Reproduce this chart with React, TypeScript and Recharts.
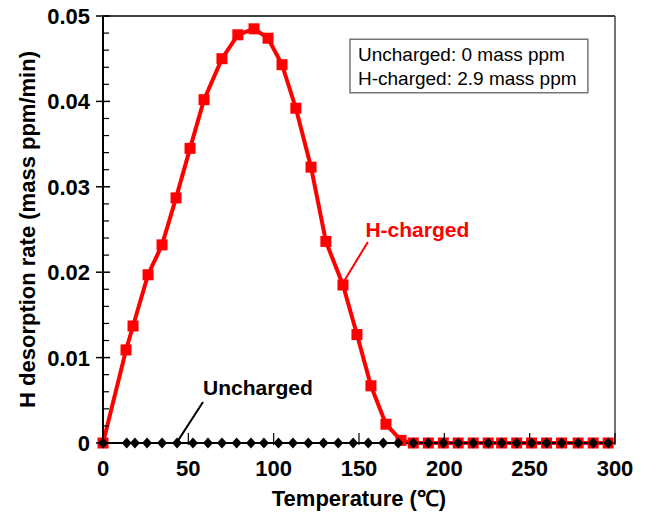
import React from 'react';
import { LineChart, Line, XAxis, YAxis, ReferenceLine, ReferenceDot, ReferenceArea, Label } from 'recharts';

const hTemps = [0, 13.5, 17.6, 26.4, 34.6, 42.8, 51, 59.2, 69.7, 79, 88.5, 96.7, 104.9, 113, 121.9, 130.6, 140.6, 148.8, 157, 165.8, 174.6, 181.8, 190.6, 199.4, 208.1, 216.9, 225.7, 233.6, 242.4, 251.1, 259.9, 268.7, 278.4, 287.2, 296];
const hRates = [0, 0.0109, 0.0137, 0.0197, 0.0232, 0.0287, 0.0345, 0.0402, 0.045, 0.0478, 0.0485, 0.0474, 0.0443, 0.0392, 0.0323, 0.0236, 0.0185, 0.0127, 0.0067, 0.0022, 0.0003, 0, 0, 0, 0, 0, 0, 0, 0, 0, 0, 0, 0, 0, 0];

const uTemps = [0, 13.9, 18.7, 25.8, 34.6, 43.4, 52.7, 61.5, 69.7, 78.3, 86.7, 94.3, 102.8, 111.3, 120.3, 129.2, 137.8, 146.6, 155.4, 164.2, 173, 181.8, 190.6, 199.4, 208.1, 216.9, 225.7, 233.6, 242.4, 251.1, 259.9, 268.7, 278.4, 287.2, 296];
const uRates = [0, 0, 0, 0, 0, 0, 0, 0, 0, 0, 0, 0, 0, 0, 0, 0, 0, 0, 0, 0, 0, 0, 0, 0, 0, 0, 0, 0, 0, 0, 0, 0, 0, 0, 0];

const xTicks = [0, 50, 100, 150, 200, 250, 300];
const yTicks = [0, 0.002, 0.004, 0.006, 0.008, 0.01, 0.012, 0.014, 0.016, 0.018, 0.02, 0.022, 0.024, 0.026, 0.028, 0.03, 0.032, 0.034, 0.036, 0.038, 0.04, 0.042, 0.044, 0.046, 0.048, 0.05];
const yLabels = ['0', '0.01', '0.02', '0.03', '0.04', '0.05'];

const legendLines = ['Uncharged: 0 mass ppm', 'H-charged: 2.9 mass ppm'];

const hData = hTemps.map((t, i) => ({ temp: t, rate: hRates[i] }));
const uData = uTemps.map((t, i) => ({ temp: t, rate: uRates[i] }));

const FONT = '"Liberation Sans", Arial, sans-serif';

const YTick = (props: any) => {
  const { x, y, payload } = props;
  const v = payload.value;
  const idx = Math.round(v * 500);
  const major = idx % 5 === 0;
  return (
    <g>
      {major ? (
        <line x1={x - 7} x2={x + 7} y1={y} y2={y} stroke="#000" strokeWidth={1.5} />
      ) : (
        <line x1={x} x2={x + 6} y1={y} y2={y} stroke="#000" strokeWidth={1.2} />
      )}
      {major && (
        <text x={x - 13} y={y} dy="0.36em" textAnchor="end" fontFamily={FONT} fontWeight="bold" fontSize={22} fill="#000">
          {yLabels[idx / 5]}
        </text>
      )}
    </g>
  );
};

const XTick = (props: any) => {
  const { x, y, payload } = props;
  return (
    <g>
      <line x1={x} x2={x} y1={y - 10} y2={y + 2} stroke="#000" strokeWidth={1.2} />
      <text x={x} y={y + 25} dy="0.36em" textAnchor="middle" fontFamily={FONT} fontWeight="bold" fontSize={22} fill="#000">
        {payload.value}
      </text>
    </g>
  );
};

const squareDot = (p: any) => (
  <rect key={`s${p.index}`} x={p.cx - 5.5} y={p.cy - 5.5} width={11} height={11} fill="#ff0000" />
);

const diamondDot = (p: any) => (
  <polygon
    key={`d${p.index}`}
    points={`${p.cx},${p.cy - 5.5} ${p.cx + 5},${p.cy} ${p.cx},${p.cy + 5.5} ${p.cx - 5},${p.cy}`}
    fill="#000"
  />
);

export default function App() {
  return (
    <div style={{ position: 'absolute', left: 0, top: 0, width: 650, height: 514, background: '#fff' }}>
      <LineChart width={650} height={514} margin={{ top: 16, right: 35, left: 0, bottom: 0 }}>
        <XAxis
          type="number"
          dataKey="temp"
          domain={[0, 300]}
          ticks={xTicks}
          interval={0}
          height={71}
          tickSize={0}
          tickMargin={0}
          tick={<XTick />}
          axisLine={{ stroke: '#000', strokeWidth: 2 }}
        >
          <Label
            content={(p: any) => {
              const vb = p.viewBox;
              return (
                <text x={vb.x + vb.width / 2} y={498} dy="0.36em" textAnchor="middle" fontFamily={FONT} fontWeight="bold" fontSize={22} fill="#000">
                  Temperature (℃)
                </text>
              );
            }}
          />
        </XAxis>
        <YAxis
          type="number"
          domain={[0, 0.05]}
          ticks={yTicks}
          interval={0}
          width={103}
          tickSize={0}
          tickMargin={0}
          tick={<YTick />}
          axisLine={{ stroke: '#000', strokeWidth: 2 }}
        >
          <Label
            content={(p: any) => {
              const vb = p.viewBox;
              const cx = 27;
              const cy = vb.y + vb.height / 2;
              return (
                <text x={cx} y={cy} dy="0.36em" textAnchor="middle" transform={`rotate(-90 ${cx} ${cy})`} fontFamily={FONT} fontWeight="bold" fontSize={22} fill="#000">
                  H desorption rate (mass ppm/min)
                </text>
              );
            }}
          />
        </YAxis>
        <ReferenceLine y={0.05} stroke="#000" strokeWidth={1.5} ifOverflow="visible" />
        <ReferenceLine x={300} stroke="#444" strokeWidth={1.5} ifOverflow="visible" />
        <ReferenceArea
          x1={144.7}
          x2={284.1}
          y1={0.04102}
          y2={0.04727}
          fill="#fff"
          fillOpacity={1}
          stroke="#777"
          strokeWidth={1.5}
          ifOverflow="visible"
          label={(p: any) => {
            const vb = p.viewBox;
            return (
              <g>
                <text x={vb.x + 8} y={vb.y + 15} dy="0.36em" fontFamily={FONT} fontSize={19} fill="#000">{legendLines[0]}</text>
                <text x={vb.x + 8} y={vb.y + 39} dy="0.36em" fontFamily={FONT} fontSize={19} fill="#000">{legendLines[1]}</text>
              </g>
            );
          }}
        />
        <Line data={hData} dataKey="rate" type="linear" stroke="#ff0000" strokeWidth={4} dot={squareDot} activeDot={false} isAnimationActive={false} />
        <Line data={uData} dataKey="rate" type="linear" stroke="#000" strokeWidth={2} dot={diamondDot} activeDot={false} isAnimationActive={false} />
        <ReferenceLine segment={[{ x: 58.6, y: 0.0048 }, { x: 43.4, y: 0.0001 }]} stroke="#000" strokeWidth={2} ifOverflow="visible" />
        <ReferenceLine segment={[{ x: 155.2, y: 0.02354 }, { x: 140.6, y: 0.01874 }]} stroke="#ff0000" strokeWidth={2} ifOverflow="visible" />
        <ReferenceDot
          x={90.8}
          y={0.00656}
          r={0}
          ifOverflow="visible"
          label={(p: any) => {
            const vb = p.viewBox;
            return (
              <text x={vb.x + vb.width / 2} y={vb.y + vb.height / 2} dy="0.36em" textAnchor="middle" fontFamily={FONT} fontWeight="bold" fontSize={21} fill="#000">
                Uncharged
              </text>
            );
          }}
        />
        <ReferenceDot
          x={184.2}
          y={0.02506}
          r={0}
          ifOverflow="visible"
          label={(p: any) => {
            const vb = p.viewBox;
            return (
              <text x={vb.x + vb.width / 2} y={vb.y + vb.height / 2} dy="0.36em" textAnchor="middle" fontFamily={FONT} fontWeight="bold" fontSize={21} fill="#ff0000">
                H-charged
              </text>
            );
          }}
        />
      </LineChart>
    </div>
  );
}
